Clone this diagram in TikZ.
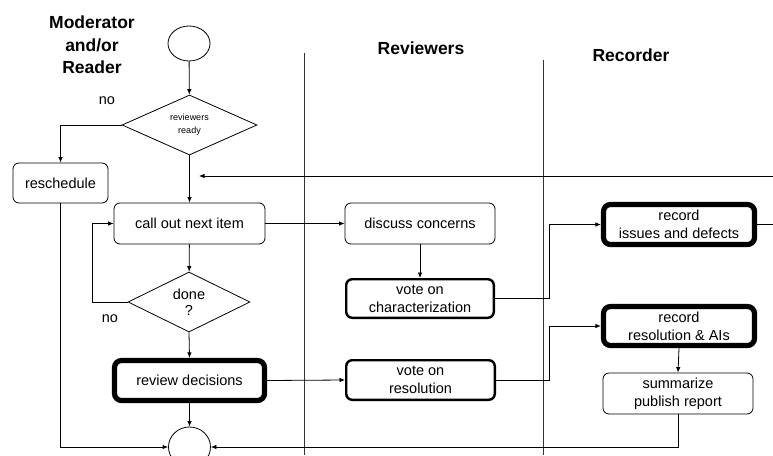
\documentclass[tikz,border=0pt]{standalone}
\usepackage{fontspec}
\setmainfont{Liberation Sans}
\usetikzlibrary{shapes.geometric,arrows.meta}
\tikzset{
  x=1pt, y=-1pt,
  line/.style={draw=black, line width=0.8pt},
  arr/.style={line, -{Latex[length=5.5pt,width=4.5pt]}},
  boxtext/.style={font=\fontsize{14.5}{18}\selectfont, align=center, inner sep=0pt},
  thinbox/.style={boxtext, draw, line width=0.8pt, rectangle, rounded corners=6pt},
  medbox/.style={boxtext, draw, line width=2.4pt, rectangle, rounded corners=6pt},
  thickbox/.style={boxtext, draw, line width=5.2pt, rectangle, rounded corners=7pt},
  decision/.style={draw, line width=0.8pt, diamond, inner sep=0pt, align=center},
  term/.style={draw, line width=0.8pt, ellipse, inner sep=0pt},
  lane/.style={draw=black!80, line width=0.8pt},
  title/.style={font=\fontsize{17.5}{22.5}\selectfont\bfseries, align=center, inner sep=0pt},
  lbl/.style={font=\fontsize{14.5}{18}\selectfont, inner sep=0pt}
}
\begin{document}
\begin{tikzpicture}
\useasboundingbox (0,0) rectangle (773,455);
% titles
\node[title] (tmod) at (92,45) {Moderator\\and/or\\Reader};
\node[title] (trev) at (421,48) {Reviewers};
\node[title] (trec) at (631,55) {Recorder};
% lanes
\coordinate (l1t) at (304,53); \coordinate (l1b) at (304,455);
\coordinate (l2t) at (543,60); \coordinate (l2b) at (543,455);
\draw[lane] (l1t) -- (l1b);
\draw[lane] (l2t) -- (l2b);
% nodes
\node[term, minimum width=42pt, minimum height=35pt] (start) at (189,43.5) {};
\node[decision, minimum width=135pt, minimum height=60pt, font=\fontsize{9}{13}\selectfont] (ready) at (189.5,125) {reviewers\\ready};
\node[thinbox, minimum width=95pt, minimum height=40pt] (resched) at (60.5,183) {reschedule};
\node[thinbox, minimum width=151pt, minimum height=41pt] (callout) at (189.5,223.5) {call out next item};
\node[decision, minimum width=122pt, minimum height=60pt, font=\fontsize{14.5}{16.5}\selectfont] (done) at (189,302) {done\\?};
\node[thickbox, minimum width=150pt, minimum height=40pt] (review) at (189.5,380.5) {review decisions};
\node[term, minimum width=42pt, minimum height=40pt] (end) at (189.5,447) {};
\node[thinbox, minimum width=150pt, minimum height=41pt] (discuss) at (420,223.5) {discuss concerns};
\node[medbox, minimum width=147.6pt, minimum height=38.6pt] (votechar) at (420,298.5) {vote on\\characterization};
\node[medbox, minimum width=148.6pt, minimum height=39.6pt] (voteres) at (420.5,380) {vote on\\resolution};
\node[thickbox, minimum width=151pt, minimum height=40pt] (reciss) at (679,224.5) {record\\issues and defects};
\node[thickbox, minimum width=151pt, minimum height=39pt] (recres) at (679,326) {record\\resolution \& AIs};
\node[thinbox, minimum width=150pt, minimum height=41pt] (summ) at (678,393.5) {summarize\\publish report};
% labels
\node[lbl] (no1) at (107,101) {no};
\node[lbl] (no2) at (110,319) {no};
% coordinates for free ends
\coordinate (fbR) at (773,176);
\coordinate (fbL) at (199,176);
\coordinate (issR) at (773,224.5);
% connectors
\draw[arr] (start) -- (ready);
\draw[arr] (ready.west) -| (resched.north);
\draw[arr] (resched.south) |- (end.west);
\draw[arr] (ready.south) -- (callout.north);
\draw[arr] (fbR) -- (fbL);
\draw[arr] (callout) -- (done);
\draw[arr] (done.west) -- ++(-35,0) |- (callout.west);
\draw[arr] (done.south) -- (review.north);
\draw[arr] (review.south) -- (end.north);
\draw[arr] (callout.east) -- (discuss.west);
\draw[arr] (discuss.south) -- (votechar.north);
\draw[arr] (review.east) -- (voteres.west);
\draw[arr] (votechar.east) -- ++(54,0) |- (reciss.west);
\draw[arr] (voteres.east) -- ++(53,0) |- (recres.west);
\draw[arr] (recres.south) -- (summ.north);
\draw[arr] (summ.south) |- (end.east);
\draw[line] (reciss.east) -- (issR);
\end{tikzpicture}
\end{document}
